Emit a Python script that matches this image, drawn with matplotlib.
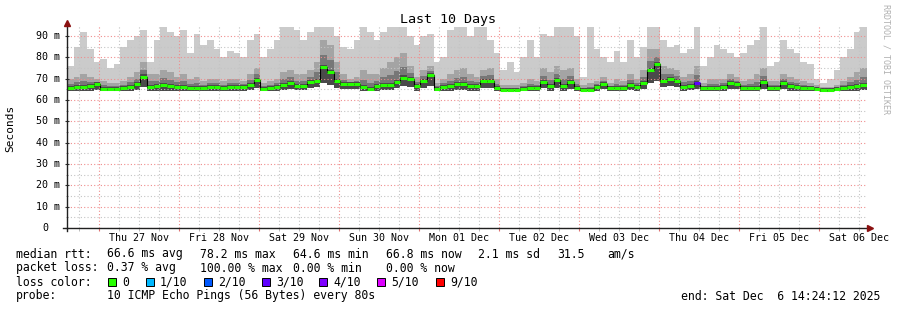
import datetime
import numpy as np
import matplotlib
matplotlib.use('Agg')
import matplotlib.pyplot as plt
import matplotlib.dates as mdates
import matplotlib.patches as patches
import matplotlib.transforms as mtransforms
from matplotlib.lines import Line2D

plt.rcParams['font.family'] = 'DejaVu Sans Mono'

W, H = 897., 310.

# 2 hour steps starting at the graph start (end - 10 days)
start = datetime.datetime(2025, 11, 26, 14, 24, 12)
step_hours = 2

# smoke upper bound (max ping), ms
hi = [76, 85, 92, 84, 78, 79, 75, 77, 85, 88, 90, 93,
      78, 88, 94, 92, 90, 93, 82, 91, 86, 88, 84, 80,
      83, 82, 80, 88, 91, 80, 84, 88, 94, 94, 93, 88,
      92, 94, 94, 94, 90, 85, 84, 88, 94, 92, 88, 92,
      94, 94, 94, 90, 86, 90, 91, 78, 80, 93, 94, 94,
      90, 94, 94, 88, 82, 74, 78, 73, 80, 88, 80, 91,
      90, 94, 94, 94, 90, 71, 94, 84, 80, 78, 83, 78,
      88, 80, 85, 94, 94, 88, 85, 86, 82, 84, 94, 76,
      80, 86, 84, 82, 80, 82, 86, 88, 94, 76, 78, 88,
      84, 82, 78, 77, 70, 68, 70, 74, 80, 84, 92, 94]

# darker smoke (upper quartile-ish), ms
mid = [70, 71, 72, 71, 70, 69, 68, 68, 69, 71, 73, 78,
       72, 72, 74, 73, 71, 72, 70, 71, 69, 70, 70, 69,
       70, 70, 69, 72, 75, 68, 69, 70, 73, 74, 72, 72,
       74, 78, 88, 86, 78, 72, 70, 71, 74, 72, 72, 75,
       78, 80, 82, 76, 71, 74, 76, 68, 70, 72, 74, 75,
       72, 71, 74, 75, 70, 67, 67, 67, 68, 70, 69, 75,
       73, 76, 74, 75, 70, 67, 68, 69, 71, 68, 70, 69,
       72, 70, 74, 84, 84, 76, 75, 74, 71, 72, 76, 68,
       70, 70, 70, 72, 71, 69, 70, 72, 75, 69, 69, 72,
       71, 70, 69, 68, 67, 66, 66, 67, 69, 71, 73, 75]

# median rtt, ms
med = [65.5, 66, 66, 66.5, 67.5, 65.2, 65, 65, 65.5, 66, 67.5, 71,
       66, 66.5, 67, 66.5, 66, 66, 65.5, 65.5, 65.5, 66, 66, 65.5,
       66, 66, 66, 67, 69.5, 65, 65.5, 66, 67, 68, 66.5, 66.5,
       68.5, 69, 75.5, 73, 69, 67.5, 67.5, 67.5, 66, 65, 66.5, 67,
       67, 68.5, 70.5, 70, 66.5, 69, 71.5, 65, 66, 66.5, 67.5, 67.5,
       66.5, 66.5, 69, 69, 65.5, 64.8, 64.8, 64.8, 65, 65.5, 65.5, 68.5,
       66.5, 69.5, 66.5, 68.5, 65.5, 64.8, 64.8, 66, 67.5, 65.5, 65.5, 65.5,
       67, 66, 68, 74, 77, 69, 70, 69, 66, 66.5, 68, 65.5,
       65.5, 65.5, 66, 68, 67.5, 65.5, 65.5, 65.5, 68.5, 65.5, 65.5, 68,
       66.5, 66, 65.8, 65.5, 65, 64.6, 64.6, 65, 65.5, 66, 66.5, 67]

# smoke lower bound (min ping), ms
lo = [64.3, 64.3, 64.3, 64.3, 64.5, 64.3, 64.2, 64.2, 64.3, 64.3, 64.5, 66,
      64.3, 64.3, 64.3, 64.3, 64.3, 64.3, 64.2, 64.2, 64.2, 64.3, 64.3, 64.2,
      64.3, 64.3, 64.3, 64.5, 65.5, 64.2, 64.3, 64.3, 64.5, 65, 64.5, 64.5,
      65.5, 66, 68, 67, 65.5, 65, 65, 65, 64.3, 64.2, 64.3, 64.5,
      64.5, 65.5, 66.5, 66, 64.3, 65.5, 66.5, 64.2, 64.3, 64.3, 64.5, 64.5,
      64.3, 64.3, 65.5, 65.5, 64.2, 64, 64, 64, 64.2, 64.3, 64.3, 65.5,
      64.3, 65.5, 64.3, 65, 64.2, 64, 64, 64.3, 65, 64.3, 64.3, 64.3,
      64.5, 64.3, 65, 68, 69, 66, 66.5, 66, 64.3, 64.5, 65, 64.3,
      64.3, 64.3, 64.3, 65, 65, 64.3, 64.3, 64.3, 65, 64.3, 64.3, 65,
      64.3, 64.3, 64.3, 64.2, 64, 63.8, 63.8, 64, 64.2, 64.3, 64.3, 64.5]

# lost pings out of 10 per step
loss = [0, 0, 0, 0, 0, 0, 0, 0, 0, 0, 0, 0,
        0, 0, 0, 0, 0, 0, 0, 0, 0, 0, 0, 0,
        0, 0, 0, 0, 0, 0, 0, 0, 0, 0, 0, 0,
        0, 0, 0, 0, 0, 0, 0, 0, 0, 0, 0, 0,
        0, 0, 0, 0, 0, 0, 0, 0, 0, 0, 0, 0,
        0, 0, 0, 0, 0, 0, 0, 0, 0, 0, 0, 0,
        0, 0, 0, 0, 0, 0, 0, 0, 0, 0, 0, 0,
        0, 0, 0, 0, 0, 0, 0, 0, 0, 0, 3, 0,
        0, 0, 0, 0, 0, 0, 0, 0, 0, 0, 0, 0,
        0, 0, 0, 0, 0, 0, 0, 0, 0, 0, 0, 0]

loss_levels = ['0', '1/10', '2/10', '3/10', '4/10', '5/10', '9/10']
loss_colors = ['#26ff00', '#00b8ff', '#0059ff', '#5e00ff', '#7e00ff',
               '#dd00ff', '#ff0000']
loss_map = {0: 0, 1: 1, 2: 2, 3: 3, 4: 4, 5: 5, 9: 6}

yticks = [0, 10, 20, 30, 40, 50, 60, 70, 80, 90]

hi, mid, med, lo = map(np.array, (hi, mid, med, lo))
n = len(med)
edges = mdates.date2num([start + datetime.timedelta(hours=step_hours * k)
                         for k in range(n + 1)])

fig = plt.figure(figsize=(W / 100, H / 100), dpi=100)
fig.patch.set_facecolor('white')

px_per_ms = 2.133
top = 228 - 95 * px_per_ms
ax = fig.add_axes([67 / W, (H - 228) / H, 800 / W, (228 - top) / H])

# smoke
ax.stairs(hi, edges, baseline=lo, fill=True, color='#cbcbcb', lw=0, zorder=1)
ax.stairs(mid, edges, baseline=lo, fill=True, color='#a4a4a4', lw=0, zorder=1)
ax.stairs(med + 0.45 * (mid - med), edges, baseline=lo, fill=True,
          color='#777777', lw=0, zorder=1)
ax.stairs(med + 1.0, edges, baseline=lo, fill=True, color='#4a4a4a', lw=0,
          zorder=1)

# median
ax.stairs(med, edges, baseline=None, color='k', lw=0.8, zorder=3)
cols = [loss_colors[loss_map[l]] for l in loss]
ax.hlines(med, edges[:-1], edges[1:], colors=cols, lw=2.2, zorder=4)

ax.set_xlim(edges[0], edges[-1])
ax.set_ylim(0, 95)

ax.xaxis.set_major_locator(mdates.DayLocator())
ax.xaxis.set_minor_locator(mdates.HourLocator(byhour=[6, 12, 18]))
ax.xaxis.set_major_formatter(plt.NullFormatter())
ax.set_yticks(yticks)
ax.set_yticks(np.arange(5, 95, 10), minor=True)
ax.yaxis.set_major_formatter(plt.NullFormatter())

ax.set_axisbelow(False)
ax.grid(which='major', color='#f08c8c', ls=(0, (1, 2)), lw=0.8, zorder=2.5)
ax.grid(which='minor', color='#c4c4c4', ls=(0, (1, 2)), lw=0.8, zorder=2.5)
ax.tick_params(axis='x', which='major', direction='out', length=2,
               color='#e07070')
ax.tick_params(axis='x', which='minor', direction='out', length=2,
               color='#b0b0b0')
ax.tick_params(axis='y', which='major', direction='inout', length=3,
               color='#303030')
ax.tick_params(axis='y', which='minor', direction='inout', length=2,
               color='#909090')
for s in ax.spines.values():
    s.set_visible(False)

# axis lines with arrow heads, in figure pixels
tf = fig.transFigure
fig.lines.append(Line2D([67 / W, 67 / W], [(H - 231) / H, (H - 24) / H],
                        color='#202020', lw=1, transform=tf))
fig.lines.append(Line2D([63 / W, 869 / W], [(H - 228) / H, (H - 228) / H],
                        color='#202020', lw=1, transform=tf))
fig.lines.append(Line2D([67 / W], [(H - 23) / H], marker='^', ms=4.5,
                        color='#8b1010', mec='#8b1010', ls='', transform=tf))
fig.lines.append(Line2D([870 / W], [(H - 228) / H], marker='>', ms=4.5,
                        color='#8b1010', mec='#8b1010', ls='', transform=tf))

fs = 8.3
fs_ax = 7.2

# y labels
for v in yticks:
    y = 228 - v * px_per_ms
    if v:
        fig.text(60 / W, 1 - y / H, '%d m' % v, ha='right', va='center',
                 fontsize=fs_ax)
    else:
        fig.text(48 / W, 1 - y / H, '0', ha='right', va='center',
                 fontsize=fs_ax)

# day labels at noon
day_tf = mtransforms.blended_transform_factory(ax.transData, fig.transFigure)
for k in range(10):
    d = datetime.datetime(2025, 11, 27, 12) + datetime.timedelta(days=k)
    ax.text(mdates.date2num(d), 1 - 238 / H, d.strftime('%a %d %b'),
            transform=day_tf, ha='center', va='center', fontsize=fs_ax)

fig.text(448 / W, 1 - 19 / H, 'Last 10 Days', ha='center', va='center',
         fontsize=9.6)
fig.text(10.5 / W, 1 - 128 / H, 'Seconds', rotation=90, ha='center',
         va='center', fontsize=8)
fig.text(886 / W, 1 - 59 / H, 'RRDTOOL / TOBI OETIKER', rotation=270,
         ha='center', va='center', fontsize=6, color='#b0b0b0')


def put(x, y, s, **kw):
    fig.text(x / W, 1 - y / H, s, va='center', fontsize=fs, **kw)


put(16, 254, 'median rtt:')
put(107, 254, '66.6 ms avg')
put(200, 254, '78.2 ms max')
put(293, 254, '64.6 ms min')
put(386, 254, '66.8 ms now')
put(478, 254, '2.1 ms sd')
put(557, 254, '31.5')
put(607, 254, 'am/s')

put(16, 268, 'packet loss:')
put(107, 268, '0.37 % avg')
put(200, 268, '100.00 % max')
put(293, 268, '0.00 % min')
put(386, 268, '0.00 % now')

put(16, 282, 'loss color:')
box_x = [108, 146, 204, 262, 319, 377, 436]
for bx, lab, c in zip(box_x, loss_levels, loss_colors):
    fig.patches.append(patches.Rectangle((bx / W, (H - 286) / H), 8 / W, 8 / H,
                                         transform=tf, fc=c, ec='k', lw=0.7))
    put(bx + 14, 282, lab)

put(16, 296, 'probe:')
put(107, 296, '10 ICMP Echo Pings (56 Bytes) every 80s')
put(880, 296, 'end: Sat Dec  6 14:24:12 2025', ha='right')

fig.savefig('out.png', dpi=100)
